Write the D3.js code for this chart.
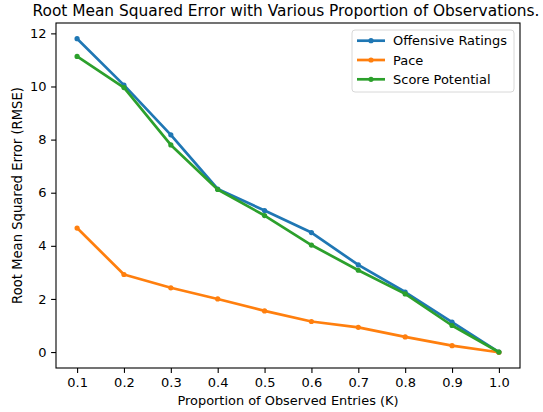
<!DOCTYPE html>
<html>
<head>
<meta charset="utf-8">
<script src="https://cdn.jsdelivr.net/npm/d3@7"></script>
<style>
  body { margin: 0; background: #fff; }
  svg text { font-family: "DejaVu Sans", sans-serif; fill: #000; }
</style>
</head>
<body>
<svg id="chart" width="543" height="412"></svg>
<script>
'use strict'

// proportion of observed entries
const proportions = [0.1, 0.2, 0.3, 0.4, 0.5, 0.6, 0.7, 0.8, 0.9, 1.0]

// RMSE per feature
const offensiveRatings = [11.8, 10.05, 8.18, 6.14, 5.33, 4.5, 3.28, 2.26, 1.13, 0.0]
const pace = [4.67, 2.92, 2.42, 2.0, 1.55, 1.15, 0.93, 0.57, 0.24, -0.01]
const scorePotential = [11.13, 9.96, 7.8, 6.12, 5.14, 4.03, 3.08, 2.19, 1.0, 0.0]

const seriesNames = ['Offensive Ratings', 'Pace', 'Score Potential']
const seriesColors = ['#1f77b4', '#ff7f0e', '#2ca02c']

const xTicks = proportions
const yTicks = [0, 2, 4, 6, 8, 10, 12]

const svg = d3.select('#chart')
const margin = {left: 56, right: 23, top: 23, bottom: 44}
const width = 543 - margin.left - margin.right
const height = 412 - margin.top - margin.bottom
const fontSize = 13

// shrink or grow a text's font until it is as wide as the reference one
function fitWidth(sel, target) {
    const node = sel.node()
    const fs = parseFloat(sel.style('font-size'))
    const w = node.getComputedTextLength()
    if (w > 0) sel.style('font-size', (fs * target / w).toFixed(2) + 'px')
}

const series = [offensiveRatings, pace, scorePotential].map((vals, i) => ({
    name: seriesNames[i],
    color: seriesColors[i],
    points: vals.map((v, j) => ({x: proportions[j], y: v}))
}))

// matplotlib-like 5% margins
const xExt = d3.extent(proportions)
const xPad = (xExt[1] - xExt[0]) * 0.05
const allY = [].concat(offensiveRatings, pace, scorePotential)
const yExt = d3.extent(allY)
const yPad = (yExt[1] - yExt[0]) * 0.05

const x = d3.scaleLinear().domain([xExt[0] - xPad, xExt[1] + xPad]).range([0, width])
const y = d3.scaleLinear().domain([yExt[0] - yPad, yExt[1] + yPad]).range([height, 0])

const g = svg.append('g').attr('transform', `translate(${margin.left},${margin.top})`)

const xAxis = g.append('g')
    .attr('transform', `translate(0,${height})`)
    .call(d3.axisBottom(x).tickValues(xTicks).tickFormat(d3.format('.1f')).tickSize(4.9).tickPadding(4.5))
const yAxis = g.append('g')
    .call(d3.axisLeft(y).tickValues(yTicks).tickFormat(d3.format('d')).tickSize(4.9).tickPadding(4.5))

for (const ax of [xAxis, yAxis]) {
    ax.select('.domain').remove()
    ax.selectAll('line').attr('stroke', '#000').attr('stroke-width', 1.1)
    ax.selectAll('text').style('font-size', fontSize + 'px').attr('fill', '#000')
}

const line = d3.line().x(d => x(d.x)).y(d => y(d.y))

const lines = g.append('g')
for (const s of series) {
    lines.append('path')
        .datum(s.points)
        .attr('fill', 'none')
        .attr('stroke', s.color)
        .attr('stroke-width', 2.7)
        .attr('stroke-linejoin', 'round')
        .attr('stroke-linecap', 'square')
        .attr('d', line)
    lines.selectAll(null)
        .data(s.points)
        .enter()
        .append('circle')
        .attr('cx', d => x(d.x))
        .attr('cy', d => y(d.y))
        .attr('r', 2.6)
        .attr('fill', s.color)
}

// frame
g.append('rect')
    .attr('width', width).attr('height', height)
    .attr('fill', 'none').attr('stroke', '#000').attr('stroke-width', 1.1)

// legend
const legend = g.append('g').attr('transform', `translate(${352 - margin.left},${30 - margin.top})`)
legend.append('rect')
    .attr('width', 162).attr('height', 62).attr('rx', 3)
    .attr('fill', '#fff').attr('fill-opacity', 0.8)
    .attr('stroke', '#d8d8d8').attr('stroke-width', 1)
series.forEach((s, i) => {
    const row = legend.append('g').attr('transform', `translate(0,${10.7 + i * 19.3})`)
    row.append('line')
        .attr('x1', 5).attr('x2', 33)
        .attr('stroke', s.color).attr('stroke-width', 2.7)
    row.append('circle').attr('cx', 19).attr('r', 2.6).attr('fill', s.color)
    const t = row.append('text')
        .attr('x', 41).attr('dy', '0.35em')
        .style('font-size', fontSize + 'px')
        .text(s.name)
    if (i === 0) fitWidth(t, 114)
})

// title and labels
const title = svg.append('text')
    .attr('x', 286).attr('y', 16)
    .attr('text-anchor', 'middle')
    .style('font-size', '16px')
    .text('Root Mean Squared Error with Various Proportion of Observations.')
fitWidth(title, 507)

const xLabel = svg.append('text')
    .attr('x', margin.left + width / 2).attr('y', 405)
    .attr('text-anchor', 'middle')
    .style('font-size', fontSize + 'px')
    .text('Proportion of Observed Entries (K)')
fitWidth(xLabel, 221)

const yLabel = svg.append('text')
    .attr('transform', `translate(22,${margin.top + height / 2}) rotate(-90)`)
    .attr('text-anchor', 'middle')
    .style('font-size', fontSize + 'px')
    .text('Root Mean Squared Error (RMSE)')
fitWidth(yLabel, 217)
</script>
</body>
</html>
